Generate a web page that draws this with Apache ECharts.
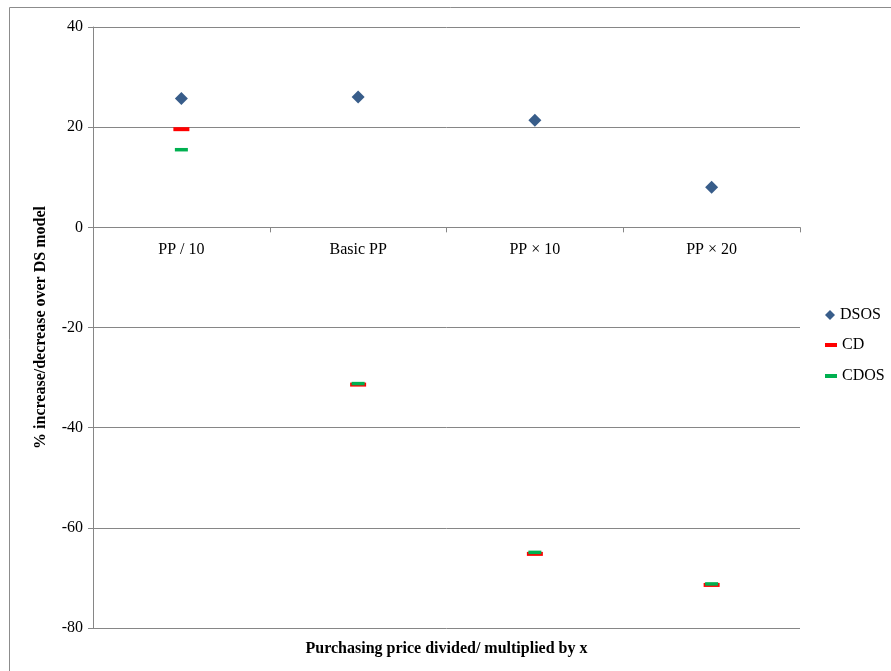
<!DOCTYPE html>
<html><head><meta charset="utf-8">
<script src="https://cdn.jsdelivr.net/npm/echarts@6/dist/echarts.min.js"></script>
<style>html,body{margin:0;padding:0;background:#fff}#c{width:891px;height:671px}</style>
</head><body><div id="c"></div>
<script>
const categories = ['PP / 10', 'Basic PP', 'PP \u00d7 10', 'PP \u00d7 20'];
const dsos = [25.7, 26.0, 21.4, 8.0];
const cd = [19.6, -31.4, -65.2, -71.4];
const cdos = [15.5, -31.2, -64.9, -71.2];
const yTicks = { min: -80, max: 40, interval: 20 };

const font = 'Liberation Serif';
const W = 891, H = 671;
const gridBox = {left: 93, right: 91, top: 27, bottom: 43};
const plotH = H - gridBox.top - gridBox.bottom;
const zeroOffset = -plotH * yTicks.max / (yTicks.max - yTicks.min);

const chart = echarts.init(document.getElementById('c'), null, {renderer: 'canvas'});
const legendBase = {
  orient: 'vertical', left: 820, itemGap: 10,
  textStyle: {fontFamily: font, fontSize: 16, color: '#000'}, selectedMode: false
};
chart.setOption({
  animation: false,
  backgroundColor: '#fff',
  graphic: [{
    type: 'rect', shape: {x: 9.5, y: 7.5, width: 900, height: 700},
    style: {fill: 'none', stroke: '#8c8c8c', lineWidth: 1}, silent: true, z: -10
  }],
  grid: Object.assign({containLabel: false, outerBoundsMode: 'none'}, gridBox),
  legend: [
    Object.assign({}, legendBase, {data: [{name: 'DSOS', icon: 'diamond'}], top: 302, itemWidth: 10, itemHeight: 10}),
    Object.assign({}, legendBase, {data: [{name: 'CD', icon: 'rect'}], top: 332, itemWidth: 12, itemHeight: 4}),
    Object.assign({}, legendBase, {data: [{name: 'CDOS', icon: 'rect'}], top: 363, itemWidth: 12, itemHeight: 4})
  ],
  xAxis: [{
    type: 'category', data: categories, boundaryGap: true, position: 'top', offset: zeroOffset,
    axisLine: {show: true, onZero: false, lineStyle: {color: '#868686', width: 1}},
    axisTick: {show: true, inside: true, interval: 0, length: 5, lineStyle: {color: '#868686'}},
    axisLabel: {inside: true, interval: 0, margin: 14, fontFamily: font, fontSize: 16, color: '#000'}
  }, {
    type: 'category', data: categories, position: 'bottom',
    axisLine: {show: false, onZero: false}, axisTick: {show: false}, axisLabel: {show: false},
    name: 'Purchasing price divided/ multiplied by x', nameLocation: 'middle',
    nameGap: 13,
    nameTextStyle: {fontFamily: font, fontSize: 16, fontWeight: 'bold', color: '#000'}
  }],
  yAxis: {
    type: 'value', min: yTicks.min, max: yTicks.max, interval: yTicks.interval,
    axisLine: {show: true, lineStyle: {color: '#868686'}},
    axisTick: {show: true, length: 5, lineStyle: {color: '#868686'}},
    axisLabel: {margin: 10, fontFamily: font, fontSize: 16, color: '#000'},
    splitLine: {show: true, lineStyle: {color: '#868686', width: 1}},
    name: '% increase/decrease over DS model', nameLocation: 'middle', nameGap: 44,
    nameTextStyle: {fontFamily: font, fontSize: 16, fontWeight: 'bold', color: '#000'}
  },
  series: [
    {name: 'DSOS', type: 'scatter', data: dsos, symbol: 'diamond', symbolSize: 13,
     itemStyle: {color: '#385D8A', opacity: 1}},
    {name: 'CD', type: 'scatter', data: cd, symbol: 'rect', symbolSize: [16, 4],
     itemStyle: {color: '#FF0000', opacity: 1}},
    {name: 'CDOS', type: 'scatter', data: cdos, symbol: 'rect', symbolSize: [13, 3.5],
     itemStyle: {color: '#00B050', opacity: 1}}
  ]
});
</script></body></html>
